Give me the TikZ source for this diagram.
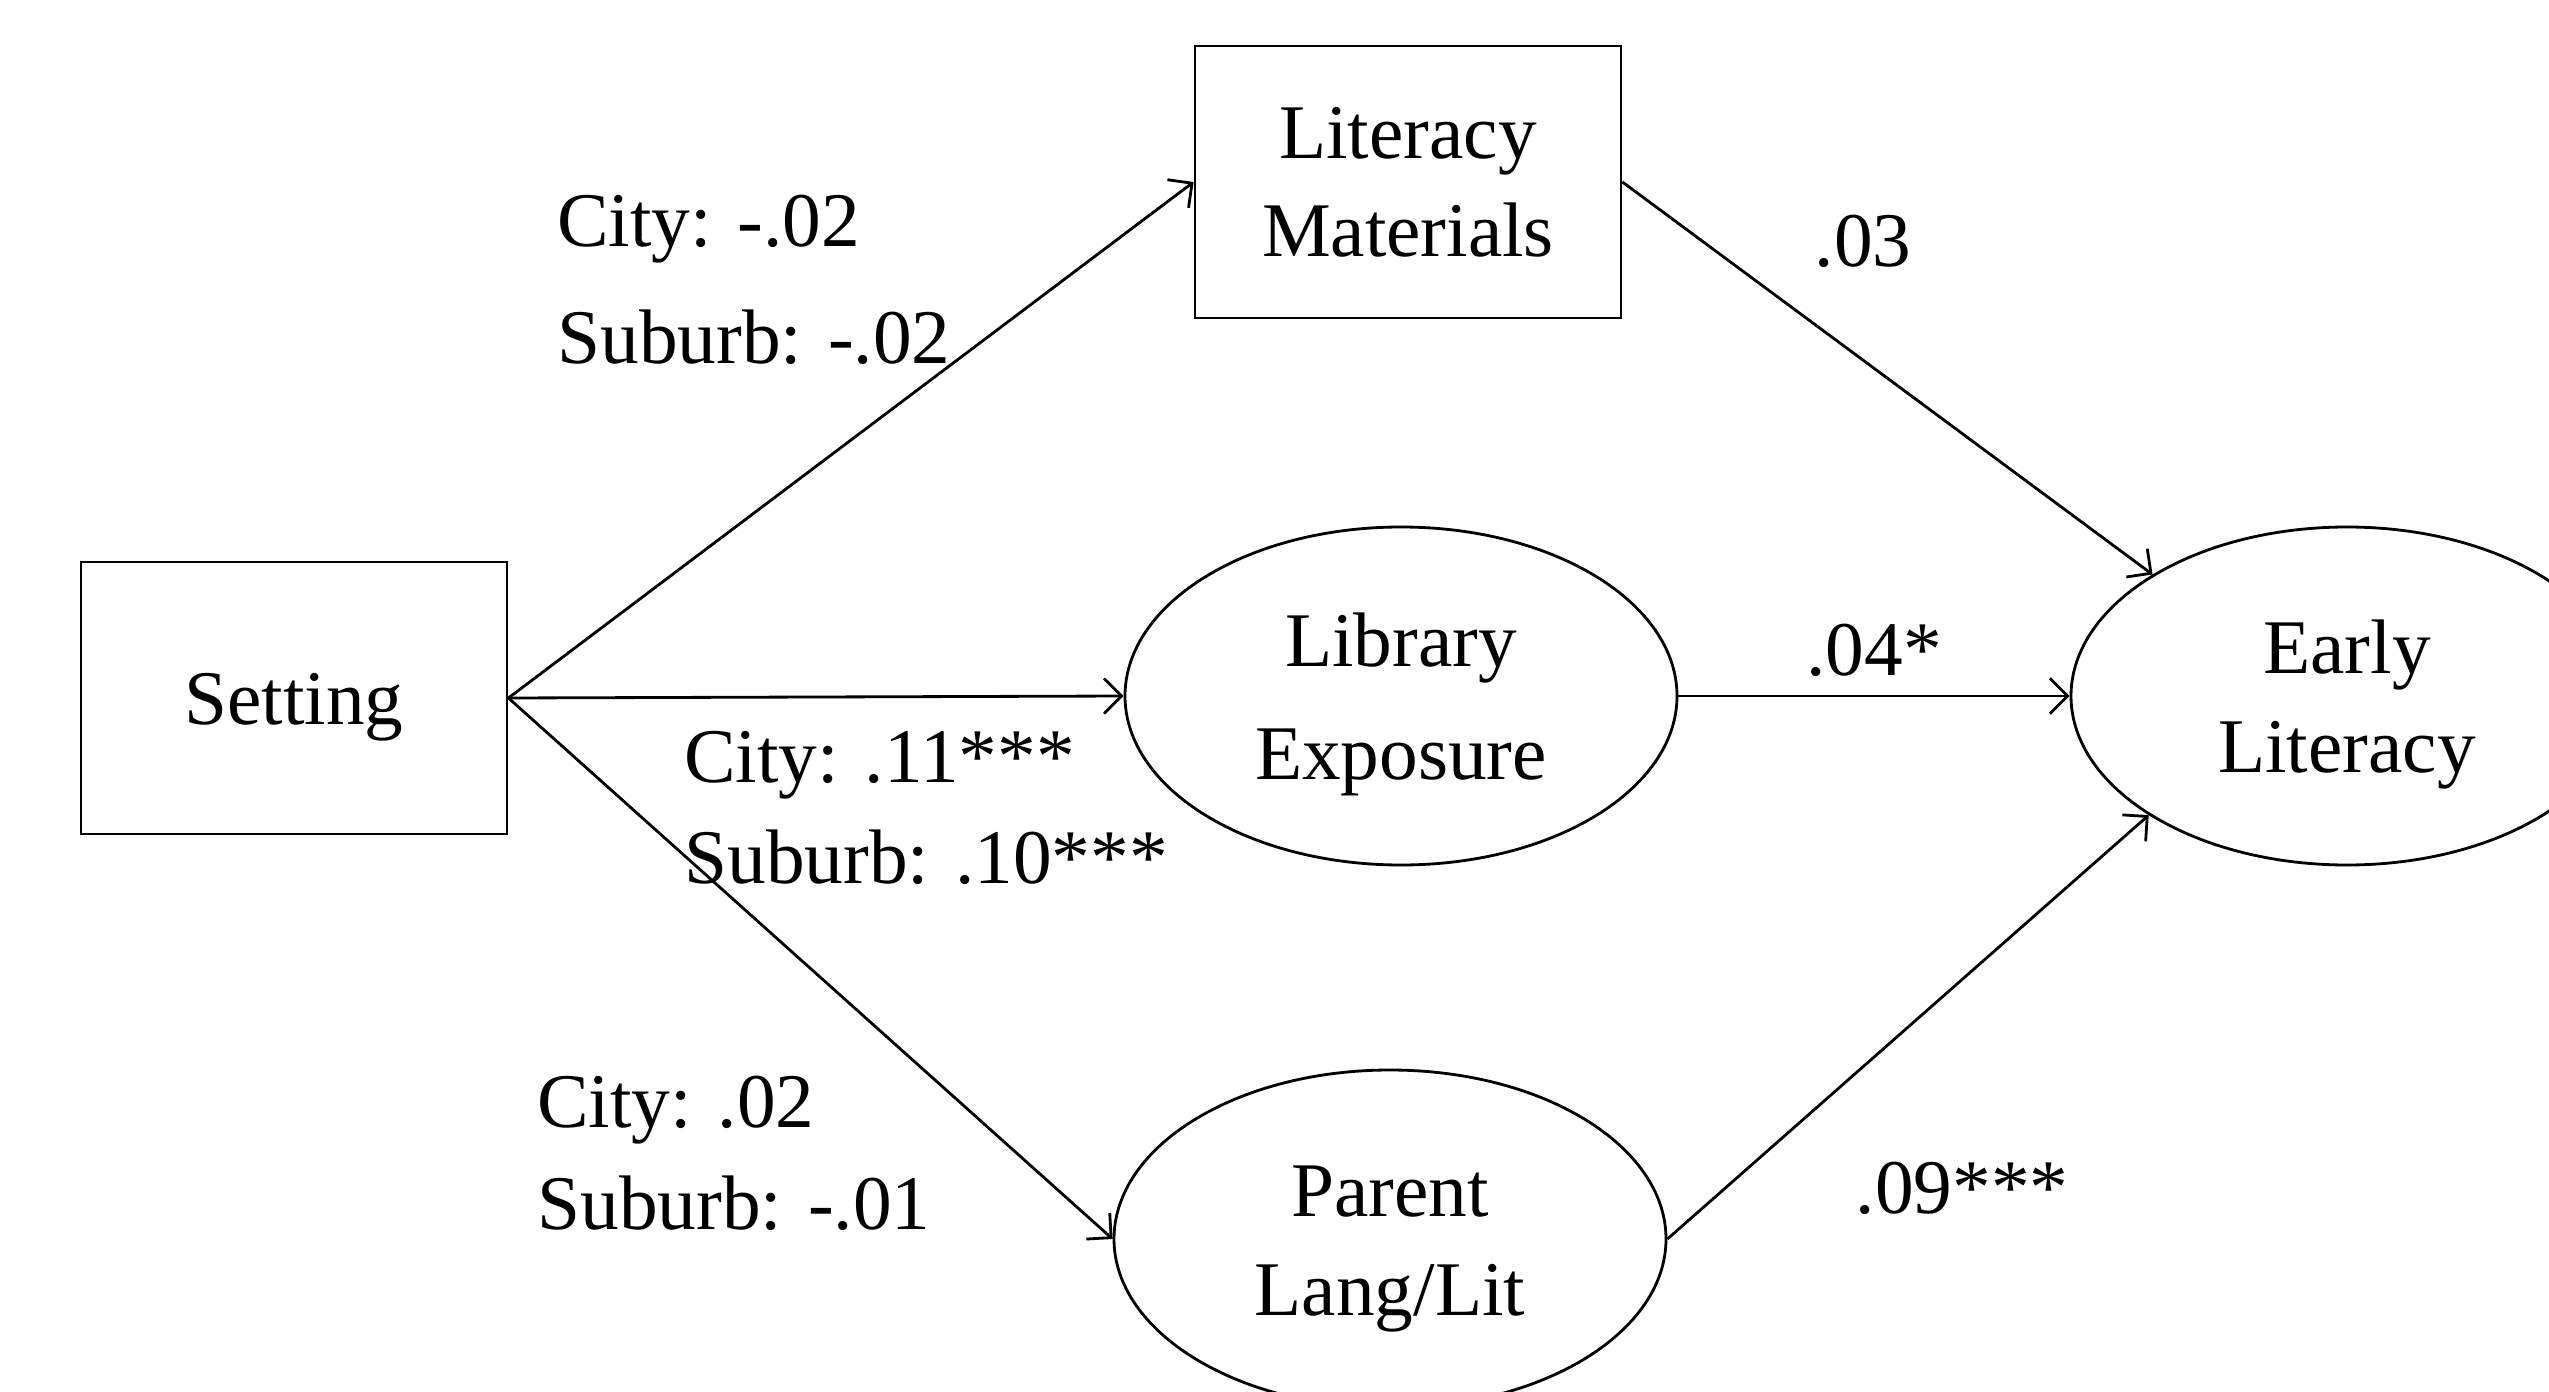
\documentclass[tikz,border=0pt]{standalone}
\usepackage{fontspec}
\setmainfont{Liberation Serif}
\usetikzlibrary{arrows.meta,shapes.geometric}

\newcommand{\topstrut}{\rule{0pt}{20pt}}

\begin{document}
\begin{tikzpicture}[>={Straight Barb[length=5pt,width=10pt]}, line width=0.8pt, font=\fontsize{22}{28}\selectfont]
    \tikzstyle{box_style} = [rectangle,draw=black,minimum width=4.26cm,minimum height=2.72cm,align=center]
    \tikzstyle{latent_style} = [ellipse,draw=black,minimum width=5.52cm,minimum height=3.38cm,inner sep=0pt,align=center]
    \tikzstyle{edge_style} = [draw=black, ->]
    \tikzstyle{coef_style} = [anchor=base west, inner sep=0pt]
    \useasboundingbox (0,0) rectangle (25.49,-13.92);
    \node[box_style] (setting) at (2.94,-6.98) {\topstrut Setting};
    \node[box_style] (litmat) at (14.08,-1.82) {Literacy\\Materials};
    \node[latent_style] (libexp) at (14.01,-6.96) {\topstrut Library\\[4pt]Exposure};
    \node[latent_style] (parent) at (13.90,-12.39) {\topstrut Parent\\Lang/Lit};
    \node[latent_style] (early) at (23.47,-6.96) {\topstrut Early\\Literacy};

    \node[coef_style] (c1) at (5.56,-2.47) {City: -.02};
    \node[coef_style] (s1) at (5.56,-3.64) {Suburb: -.02};
    \node[coef_style] (c2) at (6.83,-7.82) {City: .11***};
    \node[coef_style] (s2) at (6.83,-8.83) {Suburb: .10***};
    \node[coef_style] (c3) at (5.36,-11.27) {City: .02};
    \node[coef_style] (s3) at (5.36,-12.29) {Suburb: -.01};
    \node[anchor=base] (b1) at (18.63,-2.67) {.03};
    \node[anchor=base] (b2) at (18.74,-6.75) {.04*};
    \node[anchor=base] (b3) at (19.62,-12.13) {.09***};

    \draw[edge_style] (setting.east) -- (litmat.west);
    \draw[edge_style] (setting.east) -- (libexp.west);
    \draw[edge_style] (setting.east) -- (parent.west);
    \draw[edge_style] (litmat.east) -- (early.148);
    \draw[edge_style] (libexp.east) -- (early.west);
    \draw[edge_style] (parent.east) -- (early.211);
\end{tikzpicture}
\end{document}
